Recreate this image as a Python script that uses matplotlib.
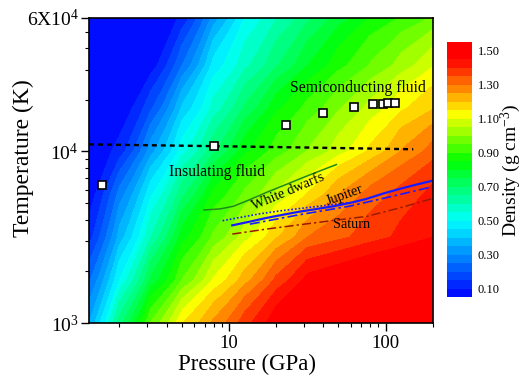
import numpy as np
import matplotlib
matplotlib.use("Agg")
import matplotlib.pyplot as plt
from matplotlib.colors import LinearSegmentedColormap
from matplotlib.ticker import FixedLocator, NullFormatter, FixedFormatter, LogLocator

plt.rcParams['font.family'] = ['Liberation Serif', 'DejaVu Serif']
plt.rcParams['mathtext.fontset'] = 'custom'
plt.rcParams['mathtext.rm'] = 'Liberation Serif'
plt.rcParams['mathtext.it'] = 'Liberation Serif:italic'

# density map (g cm^-3); rows: log10 T, columns: log10 P
log_p = [0.1, 0.3, 0.5, 0.7, 0.9, 1.1, 1.3, 1.5, 1.7, 1.9, 2.1, 2.31]
log_t = [3.0, 3.25, 3.5, 3.75, 4.0, 4.25, 4.5, 4.78]
density = [
    [0.34, 0.675, 0.954, 1.147, 1.26, 1.381, 1.49, 1.53, 1.56, 1.58, 1.58, 1.58],
    [0.233, 0.50, 0.759, 0.951, 1.107, 1.23, 1.363, 1.47, 1.50, 1.53, 1.55, 1.57],
    [0.12, 0.37, 0.60, 0.828, 0.96, 1.081, 1.194, 1.30, 1.338, 1.377, 1.415, 1.452],
    [0.06, 0.27, 0.49, 0.685, 0.864, 0.961, 1.058, 1.154, 1.251, 1.324, 1.371, 1.42],
    [0.03, 0.12, 0.33, 0.53, 0.69, 0.84, 0.925, 1.003, 1.08, 1.162, 1.254, 1.33],
    [0.03, 0.04, 0.19, 0.41, 0.57, 0.71, 0.84, 0.92, 0.995, 1.07, 1.143, 1.20],
    [0.03, 0.03, 0.07, 0.25, 0.47, 0.585, 0.695, 0.80, 0.885, 0.955, 1.025, 1.10],
    [0.03, 0.03, 0.03, 0.11, 0.32, 0.50, 0.595, 0.685, 0.775, 0.855, 0.905, 0.96],
]

# insulating / semiconducting boundary (dashed)
bound_p = [1.28, 7.5, 30, 150]
bound_t = [11000, 10750, 10550, 10300]

# squares
sq_p = [1.55, 8.0, 23.0, 40.0, 63.2, 82.8, 96.1, 103.8, 114.8]
sq_t = [6410, 10700, 14300, 16800, 18200, 18800, 19000, 19100, 19200]

# isentropes
wd_p = [6.93, 8.77, 10.65, 13.6, 17.4, 22.2, 28.3, 36.2, 48.5]
wd_t = [4560, 4625, 4790, 5240, 5780, 6320, 6920, 7570, 8390]

jup_p = [10.5, 13.6, 17.4, 22.2, 28.3, 36.2, 46.2, 59.0, 75.4, 96.1, 123, 157, 200]
jup_t = [3710, 3900, 4100, 4280, 4460, 4620, 4790, 5010, 5290, 5680, 6050, 6410, 6760]

jup2_p = [9.1, 15.7, 21.0, 28.3, 40.0, 59.0]
jup2_t = [3950, 4330, 4500, 4650, 4830, 5050]

jup3_p = [13.6, 28.3, 59.0, 123, 200]
jup3_t = [3770, 4280, 4800, 5610, 6240]

sat_p = [10.5, 17.4, 28.3, 46.2, 75.4, 123, 205]
sat_t = [3300, 3530, 3740, 3960, 4180, 4690, 5360]

levels = np.arange(0.05, 1.5501, 0.05)
cmap = LinearSegmentedColormap.from_list(
    "rainbow_origin",
    [(0.0, (0, 0, 1)), (0.30, (0, 1, 1)), (0.533, (0, 1, 0)),
     (0.72, (1, 1, 0)), (0.933, (1, 0, 0)), (1.0, (1, 0, 0))])

fig = plt.figure(figsize=(5.24, 3.77), dpi=100)
ax = fig.add_axes([0.170, 0.1432, 0.656, 0.8091])
cax = fig.add_axes([0.853, 0.2122, 0.0477, 0.676])

P, T = np.meshgrid(10 ** np.array(log_p), 10 ** np.array(log_t))
rho = np.clip(np.array(density), 0.051, 1.549)
cs = ax.contourf(P, T, rho, levels=levels, cmap=cmap, vmin=0.05, vmax=1.55)

ax.plot(bound_p, bound_t, color='black', lw=1.7, dashes=(2.1, 1.7))
ax.plot(wd_p, wd_t, color='#1d8a1d', lw=1.1)
ax.plot(jup_p, jup_t, color='#1a1aff', lw=1.6)
ax.plot(jup2_p, jup2_t, color='#1a1aff', lw=1.2, ls=(0, (1, 1.2)))
ax.plot(jup3_p, jup3_t, color='#1a1aff', lw=1.2, ls=(0, (6, 2, 1.5, 2)))
ax.plot(sat_p, sat_t, color='#9a1a00', lw=1.1, ls=(0, (6, 2, 1.5, 2)))
ax.plot(sq_p, sq_t, 's', ms=6.3, mfc='white', mec='black', mew=1.2, zorder=5)

ax.text(67, 23300, 'Semiconducting fluid', fontsize=11.3, ha='center', va='center')
ax.text(8.39, 7570, 'Insulating fluid', fontsize=11.3, ha='center', va='center')
ax.text(23.8, 5800, 'White dwarfs', fontsize=10.3, ha='center', va='center', rotation=23)
ax.text(54.8, 5530, 'Jupiter', fontsize=10.3, ha='center', va='center', rotation=20)
ax.text(60.5, 3740, 'Saturn', fontsize=10.3, ha='center', va='center')

ax.set_xscale('log')
ax.set_yscale('log')
ax.set_xlim(1.28, 200)
ax.set_ylim(1000, 60000)

ax.xaxis.set_major_locator(FixedLocator([10, 100]))
ax.xaxis.set_major_formatter(FixedFormatter(['10', '100']))
ax.xaxis.set_minor_locator(LogLocator(base=10, subs=np.arange(2, 10)))
ax.xaxis.set_minor_formatter(NullFormatter())
ax.yaxis.set_major_locator(FixedLocator([1000, 10000, 60000]))
ax.yaxis.set_major_formatter(FixedFormatter(['$10^3$', '$10^4$', '6X$10^4$']))
ax.yaxis.set_minor_locator(LogLocator(base=10, subs=np.arange(2, 10)))
ax.yaxis.set_minor_formatter(NullFormatter())

ax.tick_params(which='major', direction='out', length=5.5, width=1, labelsize=14, pad=2)
ax.tick_params(which='minor', direction='out', length=3, width=0.8)
ax.tick_params(axis='x', which='major', labelsize=13.5, pad=3)
for s in ax.spines.values():
    s.set_linewidth(1.2)

fig.text(23 / 524, 1 - 158 / 377, 'Temperature (K)', rotation=90, fontsize=17,
         ha='center', va='center')
fig.text(247 / 524, 1 - 364 / 377, 'Pressure (GPa)', fontsize=16.5,
         ha='center', va='center')

cbar = fig.colorbar(cs, cax=cax, ticks=np.arange(0.1, 1.51, 0.2), format='%.2f')
cbar.outline.set_visible(False)
cax.tick_params(length=0, labelsize=9, pad=4)
fig.text(511 / 524, 1 - 170 / 377, 'Density (g cm$^{-3}$)', rotation=90, fontsize=14,
         ha='center', va='center')

fig.savefig('out.png', dpi=100)
